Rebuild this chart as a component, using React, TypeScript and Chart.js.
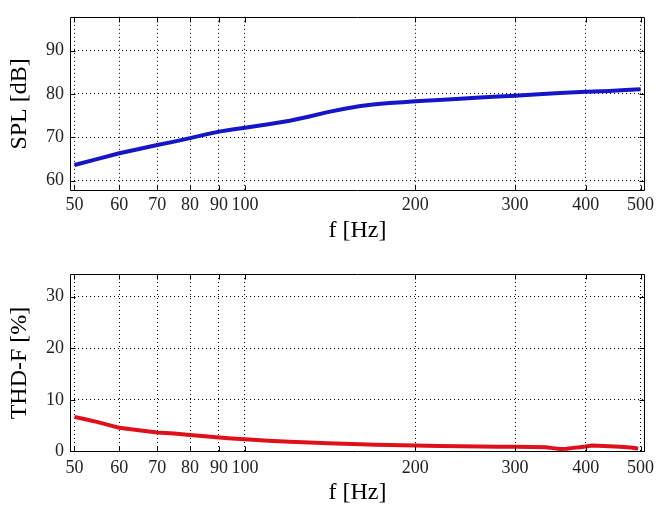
import React, { useEffect, useRef } from 'react';
import { Chart, registerables } from 'chart.js';

Chart.register(...registerables);

// ---- data ----
const freqTicks = [50, 60, 70, 80, 90, 100, 200, 300, 400, 500];
const splTicks = [60, 70, 80, 90];
const thdTicks = [0, 10, 20, 30];

const splFreq = [50, 55, 60, 65, 70, 75, 80, 85, 90, 95, 100, 110, 120, 130, 140, 150, 160, 170, 180, 190, 200, 220, 240, 260, 280, 300, 330, 360, 400, 440, 470, 500];
const splValues = [63.6, 65.0, 66.3, 67.3, 68.2, 69.0, 69.8, 70.6, 71.3, 71.8, 72.2, 73.0, 73.8, 74.8, 75.8, 76.6, 77.2, 77.6, 77.9, 78.1, 78.3, 78.6, 78.9, 79.2, 79.4, 79.6, 79.9, 80.2, 80.5, 80.7, 80.9, 81.1];

const thdFreq = [50, 52, 55, 58, 60, 65, 70, 75, 80, 85, 90, 95, 100, 110, 120, 130, 140, 150, 160, 170, 180, 200, 220, 240, 260, 280, 300, 320, 340, 350, 360, 370, 380, 390, 400, 410, 420, 440, 460, 480, 495];
const thdValues = [6.7, 6.3, 5.7, 5.0, 4.6, 4.1, 3.7, 3.5, 3.2, 2.95, 2.7, 2.5, 2.35, 2.1, 1.9, 1.75, 1.6, 1.5, 1.4, 1.3, 1.25, 1.15, 1.05, 1.0, 0.95, 0.92, 0.9, 0.88, 0.8, 0.65, 0.5, 0.55, 0.7, 0.8, 0.95, 1.15, 1.1, 1.0, 0.9, 0.75, 0.6];

const FONT = '"Liberation Serif", "Times New Roman", serif';

const framePlugin = {
  id: 'frame',
  afterDatasetsDraw(chart: any) {
    const { ctx, chartArea: a, scales } = chart;
    ctx.save();
    ctx.strokeStyle = '#000';
    ctx.lineWidth = 1;
    const l = Math.round(a.left) + 0.5;
    const t = Math.round(a.top) + 0.5;
    const r = Math.round(a.right) - 0.5;
    const b = Math.round(a.bottom) - 0.5;
    ctx.beginPath();
    ctx.rect(l, t, r - l, b - t);
    const tl = 5;
    scales.x.ticks.forEach((tk: any) => {
      const px = Math.round(scales.x.getPixelForValue(tk.value)) + 0.5;
      ctx.moveTo(px, b);
      ctx.lineTo(px, b - tl);
      ctx.moveTo(px, t);
      ctx.lineTo(px, t + tl);
    });
    scales.y.ticks.forEach((tk: any) => {
      const py = Math.round(scales.y.getPixelForValue(tk.value)) + 0.5;
      ctx.moveTo(l, py);
      ctx.lineTo(l + tl, py);
      ctx.moveTo(r, py);
      ctx.lineTo(r - tl, py);
    });
    ctx.stroke();
    ctx.restore();
  },
};

type PanelProps = {
  xs: number[];
  ys: number[];
  color: string;
  yTicks: number[];
  yMin: number;
  yMax: number;
  yTitle: string;
  padTop: number;
  xAxisHeight: number;
  xTitlePad: number;
  xTickPad: number;
};

function Panel(p: PanelProps) {
  const ref = useRef<HTMLCanvasElement>(null);
  useEffect(() => {
    if (!ref.current) return;
    const data = p.xs.map((x, i) => ({ x, y: p.ys[i] }));
    const chart = new Chart(ref.current, {
      type: 'line',
      data: {
        datasets: [
          {
            data,
            borderColor: p.color,
            borderWidth: 4,
            pointRadius: 0,
            tension: 0,
            fill: false,
          },
        ],
      },
      options: {
        animation: false,
        responsive: false,
        events: [],
        layout: { padding: { left: 0, right: 23, top: p.padTop, bottom: 0 } },
        plugins: { legend: { display: false }, tooltip: { enabled: false }, title: { display: false } },
        scales: {
          x: {
            type: 'logarithmic',
            min: 49.1,
            max: 509,
            afterBuildTicks: (s: any) => {
              s.ticks = freqTicks.map((v) => ({ value: v }));
            },
            afterFit: (s: any) => {
              s.height = p.xAxisHeight;
            },
            ticks: {
              autoSkip: false,
              maxRotation: 0,
              minRotation: 0,
              padding: p.xTickPad,
              color: '#222',
              font: { family: FONT, size: 18 },
              callback: (v: any) => String(v),
            },
            grid: { color: '#000', lineWidth: 1, drawTicks: false },
            border: { display: false, dash: [1, 3] },
            title: {
              display: true,
              text: 'f [Hz]',
              color: '#000',
              font: { family: FONT, size: 24, lineHeight: 1 },
              padding: { top: 0, bottom: p.xTitlePad },
            },
          },
          y: {
            type: 'linear',
            min: p.yMin,
            max: p.yMax,
            afterBuildTicks: (s: any) => {
              s.ticks = p.yTicks.map((v) => ({ value: v }));
            },
            afterFit: (s: any) => {
              s.width = 70;
            },
            ticks: {
              padding: 6,
              color: '#222',
              font: { family: FONT, size: 18 },
              callback: (v: any) => String(v),
            },
            grid: { color: '#000', lineWidth: 1, drawTicks: false },
            border: { display: false, dash: [1, 3] },
            title: {
              display: true,
              text: p.yTitle,
              color: '#000',
              font: { family: FONT, size: 24, lineHeight: 1 },
              padding: { top: 8, bottom: 0 },
            },
          },
        },
      } as any,
      plugins: [framePlugin],
    });
    return () => chart.destroy();
  }, []);
  return <canvas ref={ref} width={668} height={255} style={{ display: 'block', width: 668, height: 255 }} />;
}

export default function App() {
  return (
    <div style={{ position: 'absolute', left: 0, top: 0, width: 668, height: 510, background: '#fff' }}>
      <Panel
        xs={splFreq}
        ys={splValues}
        color="#1616c8"
        yTicks={splTicks}
        yMin={57.6}
        yMax={97.8}
        yTitle="SPL [dB]"
        padTop={12.7}
        xAxisHeight={64}
        xTitlePad={12}
        xTickPad={3}
      />
      <Panel
        xs={thdFreq}
        ys={thdValues}
        color="#e0101a"
        yTicks={thdTicks}
        yMin={-0.1}
        yMax={34.4}
        yTitle="THD-F [%]"
        padTop={19}
        xAxisHeight={58}
        xTitlePad={5}
        xTickPad={5}
      />
    </div>
  );
}
